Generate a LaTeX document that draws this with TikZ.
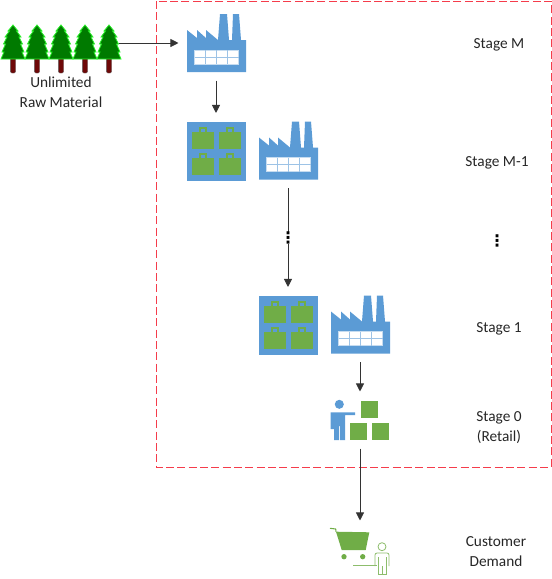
\documentclass[tikz,border=0pt]{standalone}
\usepackage{fontspec}
\setmainfont{Carlito}
\newfontfamily\dotsfont{DejaVu Sans}
\usetikzlibrary{arrows.meta}
\definecolor{plantblue}{RGB}{91, 155, 213}
\definecolor{stockgreen}{RGB}{112, 173, 71}
\definecolor{leafgreen}{RGB}{0, 122, 0}
\definecolor{leafedge}{RGB}{40, 240, 40}
\definecolor{trunkred}{RGB}{110, 8, 8}
\definecolor{boundred}{RGB}{245, 60, 75}
\begin{document}
\begin{tikzpicture}[
  x=0.75pt, y=-0.75pt,
  iconbox/.style={minimum width=43.5pt, minimum height=43.5pt, inner sep=0pt, outer sep=6.4pt},
  stagelabel/.style={align=center, font=\fontsize{11.5}{15}\selectfont, text=black!85},
  dotslabel/.style={inner sep=0pt, font=\dotsfont\bfseries\fontsize{12}{12}\selectfont},
  flow/.style={draw=black!80, line width=0.6pt, -{Triangle[length=6pt, width=6pt]}},
  factory/.pic={
    \begin{scope}[shift={(-29,-29)}]
      \fill[plantblue] (0,16) -- (10,24) -- (10,16) -- (19,24) -- (19,16) -- (31,26) -- (33,0) -- (40,0)
        -- (42,26) -- (45,26) -- (46,0) -- (52,0) -- (54,26) -- (59,26) -- (59,58) -- (0,58) -- cycle;
      \fill[white, draw=plantblue!35, line width=0.6pt] (7.5,36) rectangle (51.7,50);
      \foreach \wx in {18.5,29.6,40.6} \draw[plantblue!60, line width=0.3pt] (\wx,36) -- (\wx,50);
      \draw[plantblue!60, line width=0.3pt] (7.5,43) -- (51.7,43);
    \end{scope}
  },
  inventory/.pic={
    \begin{scope}[shift={(-29,-29)}]
      \fill[plantblue] (0,0) rectangle (59,59);
      \foreach \bx in {5,32} \foreach \by in {10,36} {
        \fill[stockgreen] (\bx,\by) rectangle ++(22,17.7);
        \draw[stockgreen, line width=0.9pt] (\bx+8,\by) -- (\bx+8,\by-3.5) -- (\bx+14,\by-3.5) -- (\bx+14,\by);
      }
    \end{scope}
  },
  tree/.pic={
    \fill[trunkred, draw=black!60, line width=0.3pt, rounded corners=1pt] (-2.7,33) rectangle (2.7,48);
    \fill[leafgreen, draw=leafedge, line width=0.6pt] (0,0) -- (5,6) -- (3.5,6) -- (8,12) -- (6,12) -- (9.5,19) -- (7.5,19)
      -- (11,27) -- (9,27) -- (12,34) -- (-12,34) -- (-9,27) -- (-11,27) -- (-7.5,19) -- (-9.5,19) -- (-6,12) -- (-8,12)
      -- (-3.5,6) -- (-5,6) -- cycle;
  },
  stock/.pic={
    \begin{scope}[shift={(-40,-60)}]
      \fill[plantblue] (19.3,44.3) circle (3.4pt);
      \fill[plantblue] (10.7,52.3) -- (35,52.3) -- (35,55) -- (25,55) -- (25,80) -- (20,80) -- (20,66)
        -- (19,66) -- (19,80) -- (14,80) -- (14,69) -- (10.7,69) -- cycle;
      \fill[stockgreen] (41.3,41) rectangle ++(17,17);
      \fill[stockgreen] (30.3,63) rectangle ++(17,17);
      \fill[stockgreen] (52,63) rectangle ++(17,17);
    \end{scope}
  },
  shopper/.pic={
    \begin{scope}[shift={(-40,-31)}]
      \draw[stockgreen, line width=0.8pt] (10,8.3) -- (15.7,9) -- (16,11.7);
      \fill[stockgreen] (16,11.7) -- (49.3,12.3) -- (45.7,30) -- (21.7,30) -- cycle;
      \fill[stockgreen] (24,36.7) circle (2pt) (42.7,36.7) circle (2pt);
      \draw[stockgreen!80, line width=0.6pt] (33.3,45.7) -- (56.7,45.7);
      \draw[stockgreen!80, line width=0.6pt] (62,26.7) circle (3pt);
      \draw[stockgreen!80, line width=0.6pt, rounded corners=1.5pt] (55,46) -- (55,33) -- (69,33) -- (69,46);
      \draw[stockgreen!80, line width=0.6pt] (58,37) -- (58,54) -- (66,54) -- (66,37) (62,46) -- (62,54);
    \end{scope}
  }
]
  \useasboundingbox (0,0) rectangle (552,579);
  \draw[boundred, dash pattern=on 6pt off 2.5pt, line width=0.7pt] (156,1) rectangle (551,467);

  \node[minimum width=87.75pt, minimum height=36pt, inner sep=0pt] (forest) at (60.5,43) {};
  \foreach \tx in {13,37,61,85,109} \pic at (\tx,25) {tree};
  \node[stagelabel] (rawlabel) at (61,92.5) {Unlimited\\Raw Material};

  \node[iconbox] (plantM) at (216,43) {};
  \pic at (plantM.center) {factory};
  \node[iconbox] (stockA) at (216,150.5) {};
  \pic at (stockA.center) {inventory};
  \node[iconbox] (plantA) at (288,150.5) {};
  \pic at (plantA.center) {factory};
  \node[iconbox] (stockB) at (288,324.5) {};
  \pic at (stockB.center) {inventory};
  \node[iconbox] (plantB) at (360,324.5) {};
  \pic at (plantB.center) {factory};
  \node[iconbox, minimum height=30pt] (retail) at (360,420) {};
  \pic at (retail.center) {stock};
  \node[iconbox, minimum height=33pt] (cart) at (360,551) {};
  \pic at (cart.center) {shopper};

  \node[stagelabel] (stageM) at (499,45) {Stage M};
  \node[stagelabel] (stageA) at (497,163) {Stage M-1};
  \node[stagelabel] (stageB) at (499,329) {Stage 1};
  \node[stagelabel] (stageR) at (499,427.5) {Stage 0\\(Retail)};
  \node[stagelabel] (demand) at (496,552) {Customer\\Demand};
  \node[dotslabel] (moredots) at (497,240.5) {⋮};

  \draw[flow] (forest.east) -- (plantM.west);
  \draw[flow] (plantM.south) -- (stockA.north);
  \draw[flow] (plantA.south) -- (stockB.north);
  \draw[flow] (plantB.south) -- (retail.north);
  \draw[flow] (retail.south) -- (cart.north);
  \node[dotslabel, fill=white] (gapdots) at (288,238) {⋮};
\end{tikzpicture}
\end{document}
